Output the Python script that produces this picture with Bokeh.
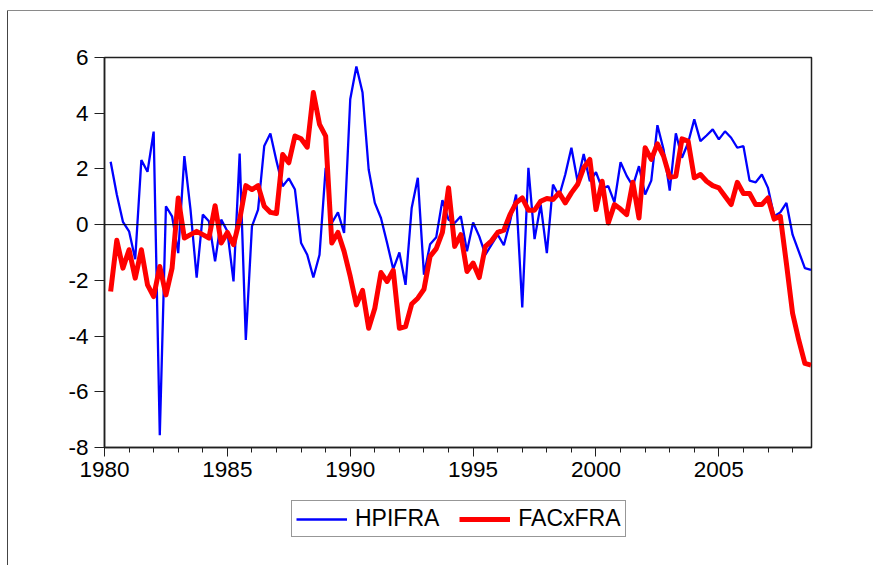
from bokeh.plotting import figure
from bokeh.layouts import column
from bokeh.models import (Range1d, SingleIntervalTicker, PrintfTickFormatter, Span,
                          Legend, LegendItem, ColumnDataSource)
from bokeh.embed import file_html
from bokeh.resources import INLINE

# Quarterly observations, first = 1980Q2, last = 2008Q4
start_year = 1980
start_quarter = 2

hpifra = [2.26, 1.08, 0.10, -0.24, -1.24, 2.32, 1.90, 3.34, -7.56, 0.66,
          0.30, -1.02, 2.46, 0.54, -1.90, 0.36, 0.12, -1.32, 0.18, -0.24,
          -2.04, 2.55, -4.14, -0.06, 0.54, 2.82, 3.27, 2.28, 1.38, 1.66,
          1.26, -0.66, -1.08, -1.90, -1.08, 2.04, 0.06, 0.44, -0.30, 4.50,
          5.68, 4.74, 1.98, 0.78, 0.24, -0.66, -1.60, -1.00, -2.16, 0.60,
          1.68, -1.80, -0.70, -0.45, 0.88, 0.18, 0.06, 0.30, -0.96, 0.08,
          -0.42, -1.08, -0.72, -0.36, -0.74, 0.10, 1.08, -2.97, 2.04, -0.52,
          0.72, -1.02, 1.44, 1.02, 1.80, 2.76, 1.56, 2.54, 1.56, 1.88,
          1.30, 1.38, 0.80, 2.24, 1.75, 1.38, 2.10, 1.08, 1.58, 3.57,
          2.70, 1.22, 3.28, 2.40, 2.94, 3.78, 3.00, 3.20, 3.42, 3.06,
          3.35, 3.12, 2.76, 2.82, 1.58, 1.52, 1.80, 1.32, 0.30, 0.44,
          0.78, -0.36, -0.96, -1.56, -1.62]

facxfra = [-2.40, -0.56, -1.56, -0.90, -1.92, -0.90, -2.16, -2.58, -1.50, -2.52,
           -1.56, 0.96, -0.48, -0.36, -0.24, -0.36, -0.48, 0.68, -0.66, -0.28,
           -0.72, 0.18, 1.40, 1.26, 1.40, 0.66, 0.44, 0.40, 2.52, 2.22,
           3.18, 3.08, 2.78, 4.74, 3.60, 3.18, -0.66, -0.28, -0.96, -1.86,
           -2.88, -2.36, -3.72, -3.00, -1.72, -2.04, -1.64, -3.72, -3.66, -2.85,
           -2.64, -2.32, -1.14, -0.86, -0.28, 1.32, -0.78, -0.36, -1.68, -1.38,
           -1.90, -0.78, -0.58, -0.28, -0.20, 0.36, 0.78, 0.96, 0.52, 0.52,
           0.84, 0.94, 0.90, 1.14, 0.78, 1.14, 1.44, 2.04, 2.34, 0.54,
           1.56, 0.06, 0.72, 0.56, 0.36, 1.52, 0.24, 2.76, 2.34, 2.90,
           2.46, 1.70, 1.74, 3.08, 3.00, 1.68, 1.80, 1.56, 1.40, 1.32,
           1.02, 0.72, 1.52, 1.12, 1.12, 0.72, 0.72, 0.96, 0.20, 0.30,
           -1.40, -3.18, -4.14, -4.98, -5.04]

series_names = ["HPIFRA", "FACxFRA"]
year_ticks = [1980, 1985, 1990, 1995, 2000, 2005]
y_ticks = [-8, -6, -4, -2, 0, 2, 4, 6]

dates = [start_year + (start_quarter - 1 + i) / 4.0 for i in range(len(hpifra))]
src = ColumnDataSource(data=dict(date=dates, hpifra=hpifra, facxfra=facxfra))

FONT = "Liberation Sans"
BLUE, RED = "#0000FF", "#FF0000"
W_BLUE, W_RED = 2.3, 5

# ---------------- main chart ----------------
p = figure(width=873, height=490, output_backend="svg", toolbar_location=None,
           x_range=Range1d(1980.0, 2008.77), y_range=Range1d(-8, 6),
           min_border_left=104, min_border_right=62, min_border_top=57,
           min_border_bottom=43)
p.border_fill_alpha = 0
p.xgrid.visible = False
p.ygrid.visible = False
p.outline_line_color = "#202020"
p.outline_line_width = 1.5
p.background_fill_color = "white"

p.xaxis.ticker = SingleIntervalTicker(interval=5, num_minor_ticks=5)
p.xaxis.major_tick_out = 9
p.xaxis.major_tick_in = 0
p.xaxis.minor_tick_out = 5
p.xaxis.minor_tick_in = 0
p.xaxis.major_label_standoff = 5
p.xaxis.formatter = PrintfTickFormatter(format="%d")

p.yaxis.ticker = SingleIntervalTicker(interval=2, num_minor_ticks=0)
p.yaxis.major_tick_out = 10
p.yaxis.major_tick_in = 0
p.yaxis.minor_tick_out = 0
p.yaxis.major_label_standoff = 6
p.yaxis.formatter = PrintfTickFormatter(format="%d")

for ax in (p.xaxis, p.yaxis):
    ax.axis_line_color = "#202020"
    ax.axis_line_width = 1.5
    ax.major_tick_line_color = "#202020"
    ax.minor_tick_line_color = "#202020"
    ax.major_label_text_font = FONT
    ax.major_label_text_font_size = "22.5px"
    ax.major_label_text_color = "black"

p.add_layout(Span(location=0, dimension="width", line_color="black", line_width=1))

p.line("date", "hpifra", source=src, line_color=BLUE, line_width=W_BLUE)
p.line("date", "facxfra", source=src, line_color=RED, line_width=W_RED,
       line_join="round")

# ---------------- legend strip (same series, outside its visible range) ----------------
q = figure(width=873, height=75, output_backend="svg", toolbar_location=None,
           x_range=Range1d(0, 1), y_range=Range1d(0, 1),
           x_axis_location=None, y_axis_location=None,
           min_border_left=0, min_border_right=0, min_border_top=0,
           min_border_bottom=0)
q.xgrid.visible = False
q.ygrid.visible = False
q.outline_line_color = None
q.background_fill_alpha = 0
q.border_fill_alpha = 0
lb = q.line("date", "hpifra", source=src, line_color=BLUE, line_width=W_BLUE)
lr = q.line("date", "facxfra", source=src, line_color=RED, line_width=W_RED)

legend = Legend(items=[LegendItem(label=series_names[0], renderers=[lb]),
                       LegendItem(label=series_names[1], renderers=[lr])],
                location=(187, 28), orientation="horizontal",
                label_text_font=FONT, label_text_font_size="23px",
                label_text_color="black",
                border_line_color="#303030", border_line_width=1,
                padding=4, spacing=20, glyph_width=51, glyph_height=20,
                label_standoff=8, margin=0, background_fill_color="white",
                background_fill_alpha=1)
q.add_layout(legend)

lay = column(p, q, spacing=0)
lay.styles = {"background": ("linear-gradient(#8a8a8a,#8a8a8a) 7px 10px / 100% 1px no-repeat, "
                             "linear-gradient(#444444,#444444) 7px 10px / 1px 100% no-repeat, "
                             "#ffffff")}

open("out.html", "w").write(file_html(lay, INLINE))
